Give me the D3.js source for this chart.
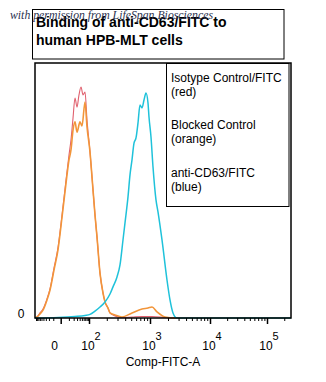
<!DOCTYPE html>
<html><head><meta charset="utf-8">
<script src="https://cdn.jsdelivr.net/npm/d3@7"></script>
<style>html,body{margin:0;padding:0;background:#fff;}svg{display:block;font-family:Arial,"Liberation Sans",sans-serif;}</style>
</head><body>
<script>
// ---- data (x: FITC intensity, y: % of max) ----
const redX    = [-100,-81.3,-59.0,-42.1,-25.9,-17.1,-8.7,-2.9,1.2,5.7,10.2,13.9,18.4,23.6,29.8,37.1,45.9,56.2,68.4,82.9,104.1,112.7,126.8,137.1,154.1,173.0,186.8,209.5,226.0,273.0,355.0,515.0,745.1,1080,1782,2617,262144];
const redY    = [0,0.4,2.0,3.5,7.5,11.4,19.6,27.5,40.4,54.1,63.9,69.8,78.4,86.3,82.7,87.5,90.6,87.5,88.6,77.6,65.1,55.3,40.4,31.8,17.6,9.8,6.3,3.9,2.0,0.8,0.2,0.4,0.6,0.6,0.2,0,0];
const orangeX = [-100,-81.3,-59.0,-42.1,-25.9,-17.1,-8.7,-2.9,1.2,5.7,10.2,13.9,18.4,23.6,29.8,41.3,50.8,68.4,82.9,104.1,112.7,126.8,137.1,154.1,173.0,186.8,209.5,226.0,273.0,355.0,515.0,745.1,929.2,1080,1310,1782,2617,262144];
const orangeY = [0,0.4,1.6,3.1,7.1,11.0,18.8,26.7,39.6,52.9,62.0,65.9,73.7,76.9,72.9,76.9,75.3,84.7,74.9,65.1,55.3,40.4,31.8,17.6,9.8,6.3,3.9,2.0,1.2,0.4,2.0,3.5,3.9,4.3,2.4,0.4,0,0];
const blueX   = [-100,-2.9,23.6,68.4,104.1,126.8,154.1,186.8,226.0,253.2,294.4,329.4,368.5,397.1,444.0,478.2,515.0,554.6,597.2,643.0,692.2,745.1,802.1,863.3,929.2,963.9,1039,1123,1260,1361,1588,1924,2159,2423,2825,262144];
const blueY   = [0,0.2,0.6,1.0,1.4,2.7,4.3,6.3,9.4,12.2,16.1,20.8,30.6,37.3,47.5,56.1,62.0,68.6,70.6,76.5,83.5,82.4,85.5,88.2,84.3,78.8,71.0,59.2,46.3,41.6,30.6,14.9,7.1,2.0,0,0];

const xMajorTicks = [0, 100, 1000, 10000, 100000];
const xTickLabels = ["0", "10|2", "10|3", "10|4", "10|5"];
const xAxisTitle = "Comp-FITC-A";
const yTickValues = [0];
const titleLines = ["Binding of anti-CD63/FITC to", "human HPB-MLT cells"];
const legendLines = ["Isotype Control/FITC", "(red)", "Blocked Control", "(orange)", "anti-CD63/FITC", "(blue)"];
const watermark = "with permission from LifeSpan Biosciences";

const W = 326, H = 382;
const svg = d3.select("body").append("svg").attr("width", W).attr("height", H);

const L = 35, R = 291, T = 63, B = 318;
const x = d3.scaleSymlog().constant(10)
  .domain([-100, 0, 100, 1000, 10000, 100000, 262144])
  .range([L, 60.7, 89, 150, 210, 267, R]);
const y = d3.scaleLinear().domain([0, 100]).range([B, T]);

// minor ticks
const minor = [];
for (let k = 1; k <= 9; k++) { minor.push(-10 * k); minor.push(10 * k); }
[100, 1000, 10000, 100000].forEach(d => { for (let k = 2; k <= 9; k++) if (d * k < 262144) minor.push(d * k); });

svg.append("rect").attr("x", L).attr("y", T).attr("width", R - L).attr("height", B - T)
  .attr("fill", "#fff").attr("stroke", "none");

// curves
const line = d3.line().x(d => x(d[0])).y(d => y(d[1])).curve(d3.curveMonotoneX);
const g = svg.append("g");
g.append("path").datum(d3.zip(redX, redY)).attr("d", line)
  .attr("fill", "none").attr("stroke", "#e0606e").attr("stroke-width", 1.1);
g.append("path").datum(d3.zip(orangeX, orangeY)).attr("d", line)
  .attr("fill", "none").attr("stroke", "#f2953a").attr("stroke-width", 1.6);
g.append("path").datum(d3.zip(blueX, blueY)).attr("d", line)
  .attr("fill", "none").attr("stroke", "#1fc2da").attr("stroke-width", 1.5);

// frame
svg.append("rect").attr("x", L).attr("y", T).attr("width", R - L).attr("height", B - T)
  .attr("fill", "none").attr("stroke", "#000").attr("stroke-width", 1.5);

// x axis ticks
const axMinor = d3.axisBottom(x).tickValues(minor).tickSize(3).tickFormat("");
const gm = svg.append("g").attr("transform", `translate(0,${B})`).call(axMinor);
const axMajor = d3.axisBottom(x).tickValues(xMajorTicks).tickSize(6).tickFormat("");
const gM = svg.append("g").attr("transform", `translate(0,${B})`).call(axMajor);
[gm, gM].forEach(a => { a.select(".domain").remove(); a.selectAll("line").attr("stroke", "#000"); });
gM.selectAll("line").attr("stroke-width", 1.5);

// x tick labels
xMajorTicks.forEach((v, i) => {
  const parts = xTickLabels[i].split("|");
  const t = svg.append("text").attr("y", 350).attr("font-size", 12).attr("fill", "#000")
    .attr("text-anchor", "middle");
  if (parts.length === 1) {
    t.attr("x", x(v) - 6).text(parts[0]);
  } else {
    t.attr("x", x(v) + 2);
    t.append("tspan").text(parts[0]);
    t.append("tspan").attr("dy", -10).attr("font-size", 11).text(parts[1]);
  }
});
svg.append("text").attr("x", 163).attr("y", 366).attr("text-anchor", "middle")
  .attr("font-size", 12).text(xAxisTitle);

// y labels
yTickValues.forEach(v => {
  svg.append("text").attr("x", 21).attr("y", y(v)).attr("text-anchor", "middle")
    .attr("font-size", 12).text(String(v));
});

// legend box
svg.append("rect").attr("x", 166.5).attr("y", 63.5).attr("width", 122.5).attr("height", 143)
  .attr("fill", "#fff").attr("stroke", "#000").attr("stroke-width", 1);
const legY = [82, 96, 129, 143, 177, 191];
legendLines.forEach((s, i) => {
  svg.append("text").attr("x", 171).attr("y", legY[i]).attr("font-size", 12).text(s);
});

// title box
svg.append("rect").attr("x", 32.5).attr("y", 9.5).attr("width", 251.5).attr("height", 49.5)
  .attr("fill", "#fff").attr("stroke", "#000").attr("stroke-width", 1);
titleLines.forEach((s, i) => {
  svg.append("text").attr("x", 36).attr("y", 27 + i * 18).attr("font-size", 14)
    .attr("font-weight", "bold").text(s);
});

// watermark (overlaps the title box, as in the source image)
svg.append("text").attr("x", 10).attr("y", 18.5).attr("font-size", 11.5)
  .attr("font-family", "'Liberation Serif','DejaVu Serif',serif").attr("font-style", "italic")
  .attr("fill", "#2c3350")
  .attr("textLength", 203).attr("lengthAdjust", "spacingAndGlyphs").text(watermark);
</script>
</body></html>
